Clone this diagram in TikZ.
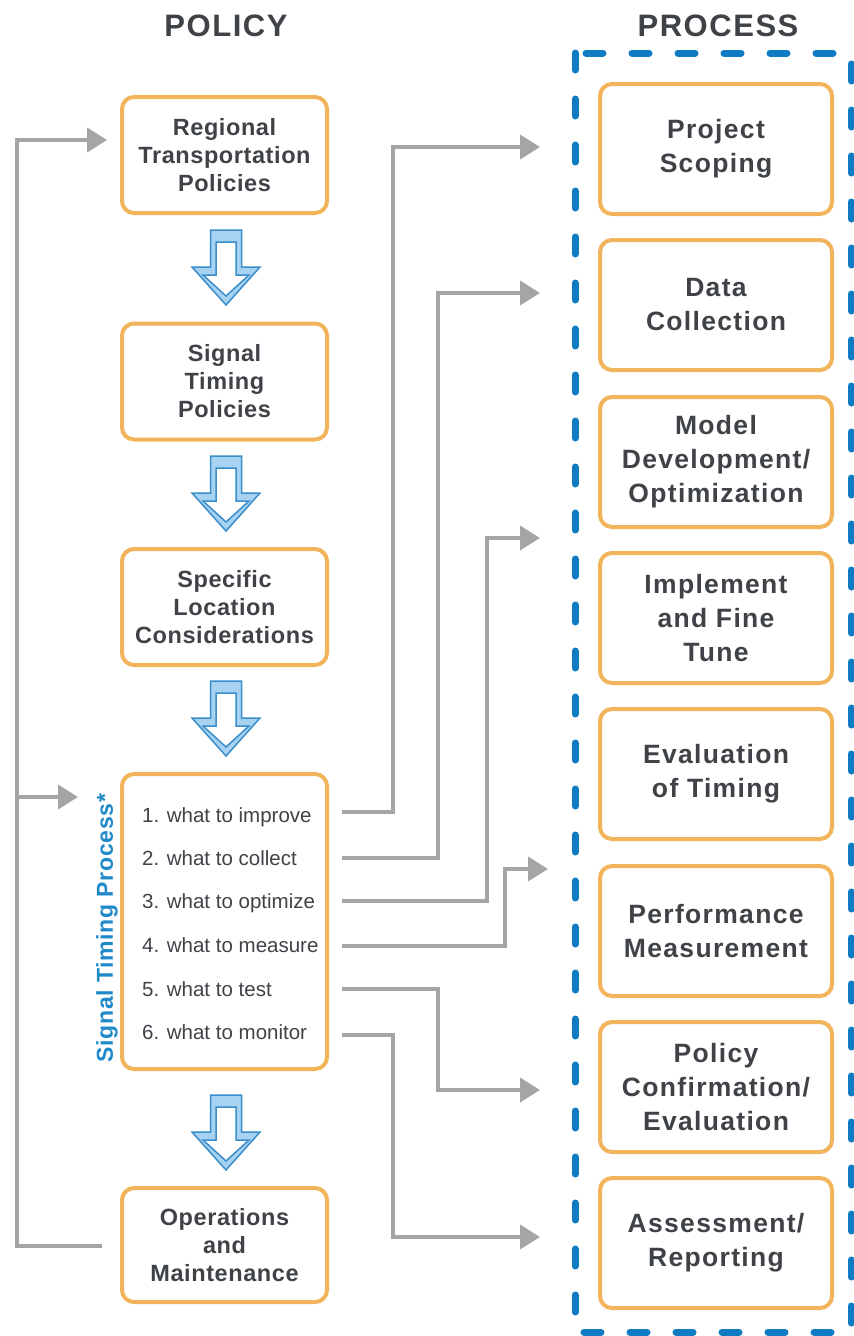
\documentclass[tikz,border=0pt]{standalone}
\usepackage{fontspec}
\setmainfont{Liberation Sans}
\newfontfamily\fA[LetterSpace=2.5]{Liberation Sans}
\newfontfamily\fB[LetterSpace=5]{Liberation Sans}
\newfontfamily\fH[LetterSpace=5]{Liberation Sans}
\newfontfamily\fV[LetterSpace=3]{Liberation Sans}
\usetikzlibrary{arrows.meta}
\definecolor{boxorange}{HTML}{F2B45A}
\definecolor{txtgray}{HTML}{3F4347}
\definecolor{linegray}{HTML}{A5A5A5}
\definecolor{dashblue}{HTML}{0F7BC2}
\definecolor{lblblue}{HTML}{2089C9}
\definecolor{arrfill}{HTML}{A8D2F2}
\definecolor{arrline}{HTML}{3A8ECB}
\newcommand\hollowdown[2]{%
  \filldraw[fill=arrfill, draw=arrline, line width=1.5pt]
    (#1-15.5,#2) -- (#1+15.5,#2) -- (#1+15.5,#2+37) -- (#1+34,#2+37) -- (#1,#2+75)
    -- (#1-34,#2+37) -- (#1-15.5,#2+37) -- cycle;
  \filldraw[fill=white, draw=arrline, line width=1.5pt]
    (#1-10,#2+12) -- (#1+10,#2+12) -- (#1+10,#2+45) -- (#1+23,#2+45) -- (#1,#2+66)
    -- (#1-23,#2+45) -- (#1-10,#2+45) -- cycle;
}
\begin{document}
\begin{tikzpicture}[x=1pt,y=-1pt,
  policybox/.style={draw=boxorange, line width=4pt, rounded corners=12pt, fill=white,
    minimum width=205pt, minimum height=116pt, align=center, text=txtgray,
    font=\fA\bfseries\fontsize{23.5}{28}\selectfont, inner sep=0pt},
  procbox/.style={draw=boxorange, line width=4pt, rounded corners=12pt, fill=white,
    minimum width=232pt, minimum height=130pt, align=center, text=txtgray,
    font=\fB\bfseries\fontsize{26.5}{34}\selectfont, inner sep=0pt},
  header/.style={anchor=base, text=txtgray, font=\fH\bfseries\fontsize{31}{34}\selectfont, inner sep=0pt},
  conn/.style={draw=linegray, line width=4pt},
  connarrow/.style={conn, -{Triangle[length=20pt,width=24pt]}},
  item/.style={anchor=base west, text=txtgray, font=\fontsize{20.5}{24}\selectfont, inner sep=0pt},
]
\useasboundingbox (0,0) rectangle (854,1336);
\fill[white] (0,0) rectangle (854,1336);

% headers
\node[header] (hpol) at (226,36) {POLICY};
\node[header] (hproc) at (718,36) {PROCESS};

% dashed process frame
\draw[dashblue, line width=7pt, line cap=round, dash pattern=on 17pt off 29pt]
  (575,53) rectangle (851,1332);

% policy column
\node[policybox] (rtp) at (224.5,155) {Regional\\Transportation\\Policies};
\node[policybox] (stpol) at (224.5,381.5) {Signal\\Timing\\Policies};
\node[policybox] (slc) at (224.5,607) {Specific\\Location\\Considerations};
\node[policybox, minimum height=295pt] (stp) at (224.5,921.5) {};
\node[policybox, minimum height=114pt] (ops) at (224.5,1245) {Operations\\and\\Maintenance};

\hollowdown{226}{230}
\hollowdown{226}{456}
\hollowdown{226}{681}
\hollowdown{226}{1095}

% vertical label
\node[rotate=90, text=lblblue, font=\fV\bfseries\fontsize{23}{26}\selectfont, inner sep=0pt]
  (stplabel) at (107,928) {Signal Timing Process*};

% list items
\node[item] (i1) at (142,822) {1. what to improve};
\node[item] (i2) at (142,865) {2. what to collect};
\node[item] (i3) at (142,908) {3. what to optimize};
\node[item] (i4) at (142,952) {4. what to measure};
\node[item] (i5) at (142,996) {5. what to test};
\node[item] (i6) at (142,1039) {6. what to monitor};

% process column
\node[procbox] (ps) at (716,149) {Project\\Scoping};
\node[procbox] (dc) at (716,305) {Data\\Collection};
\node[procbox] (md) at (716,462) {Model\\Development/\\Optimization};
\node[procbox] (ift) at (716,618) {Implement\\and Fine\\Tune};
\node[procbox] (eot) at (716,774) {Evaluation\\of Timing};
\node[procbox] (pm) at (716,931) {Performance\\Measurement};
\node[procbox] (pce) at (716,1087) {Policy\\Confirmation/\\Evaluation};
\node[procbox] (ar) at (716,1243) {Assessment/\\Reporting};

% connector ends
\coordinate (s1) at (342,812);  \coordinate (t1) at (540,147);
\coordinate (s2) at (342,858);  \coordinate (t2) at (540,293);
\coordinate (s3) at (342,901);  \coordinate (t3) at (540,538);
\coordinate (s4) at (342,946);  \coordinate (t4) at (548,869);
\coordinate (s5) at (342,989);  \coordinate (t5) at (540,1090);
\coordinate (s6) at (342,1035); \coordinate (t6) at (540,1237);

\draw[connarrow] (s1) -- (393,812) -- (393,147) -- (t1);
\draw[connarrow] (s2) -- (438,858) -- (438,293) -- (t2);
\draw[connarrow] (s3) -- (487,901) -- (487,538) -- (t3);
\draw[connarrow] (s4) -- (505,946) -- (505,869) -- (t4);
\draw[connarrow] (s5) -- (438,989) -- (438,1090) -- (t5);
\draw[connarrow] (s6) -- (393,1035) -- (393,1237) -- (t6);

% feedback loop
\coordinate (opsout) at (102,1246);
\coordinate (rtpin) at (107,140);
\coordinate (stpin) at (78,797);
\coordinate (branch) at (17,797);
\draw[connarrow] (opsout) -- (17,1246) -- (17,140) -- (rtpin);
\draw[connarrow] (branch) -- (stpin);
\end{tikzpicture}
\end{document}
